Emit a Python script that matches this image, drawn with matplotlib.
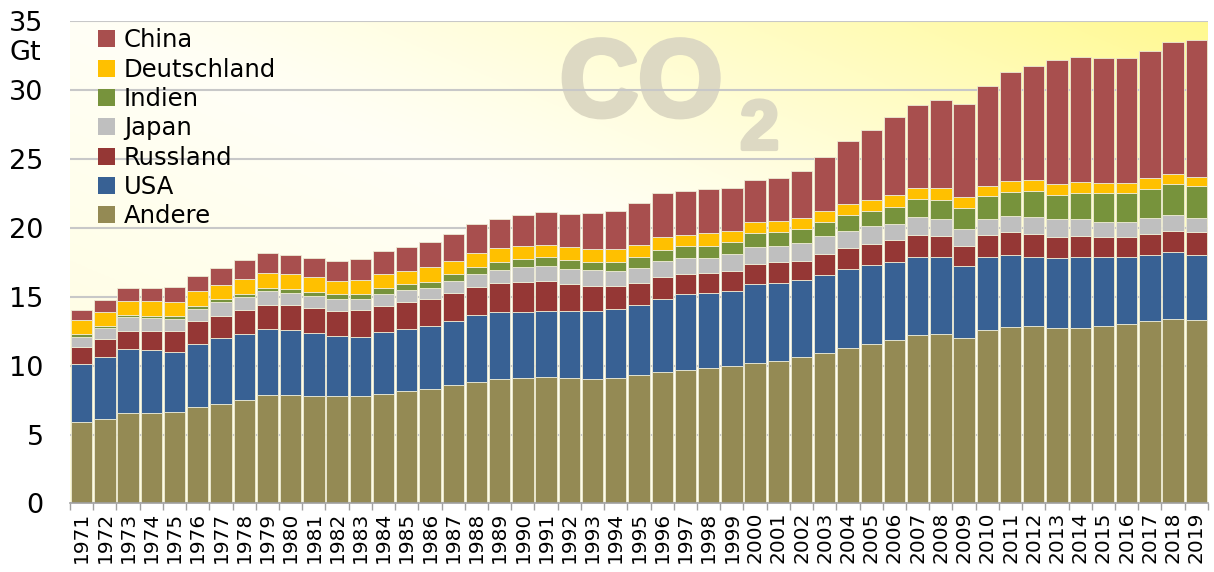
import numpy as np
import matplotlib.pyplot as plt
import matplotlib.patheffects as pe
from matplotlib.patches import Patch
from matplotlib.colors import to_rgb

# Jahre und CO2-Emissionen in Gt (aus dem Bild geschaetzt)
years = list(range(1971, 2020))

andere = [5.88, 6.12, 6.53, 6.56, 6.65, 7.00, 7.20, 7.50, 7.84, 7.90,
          7.80, 7.79, 7.80, 7.93, 8.13, 8.32, 8.59, 8.80, 9.02, 9.12,
          9.17, 9.07, 9.02, 9.07, 9.29, 9.55, 9.70, 9.80, 9.96, 10.20,
          10.35, 10.60, 10.90, 11.30, 11.60, 11.85, 12.20, 12.30, 12.00, 12.60,
          12.80, 12.90, 12.70, 12.70, 12.90, 13.00, 13.25, 13.35, 13.30]
usa = [4.25, 4.48, 4.67, 4.54, 4.35, 4.60, 4.80, 4.80, 4.83, 4.65,
       4.56, 4.35, 4.30, 4.52, 4.52, 4.52, 4.63, 4.86, 4.88, 4.78,
       4.80, 4.88, 4.93, 5.03, 5.09, 5.25, 5.50, 5.50, 5.44, 5.70,
       5.65, 5.60, 5.70, 5.70, 5.70, 5.65, 5.70, 5.60, 5.20, 5.30,
       5.20, 5.00, 5.10, 5.20, 4.95, 4.85, 4.75, 4.90, 4.70]
russland = [1.23, 1.30, 1.30, 1.40, 1.50, 1.65, 1.60, 1.70, 1.73, 1.85,
            1.84, 1.83, 1.90, 1.88, 1.93, 1.96, 2.06, 2.05, 2.08, 2.17,
            2.18, 1.95, 1.83, 1.64, 1.60, 1.60, 1.45, 1.40, 1.50, 1.50,
            1.50, 1.40, 1.50, 1.50, 1.50, 1.60, 1.60, 1.50, 1.50, 1.60,
            1.70, 1.65, 1.50, 1.50, 1.45, 1.45, 1.55, 1.55, 1.70]
japan = [0.74, 0.80, 1.00, 0.95, 0.87, 0.85, 1.00, 0.96, 1.00, 0.88,
         0.86, 0.88, 0.85, 0.90, 0.89, 0.84, 0.89, 0.97, 0.99, 1.09,
         1.08, 1.10, 1.14, 1.16, 1.11, 1.20, 1.15, 1.10, 1.20, 1.20,
         1.20, 1.30, 1.30, 1.30, 1.30, 1.20, 1.30, 1.20, 1.20, 1.10,
         1.15, 1.25, 1.30, 1.20, 1.15, 1.15, 1.15, 1.10, 1.00]
indien = [0.16, 0.20, 0.20, 0.15, 0.23, 0.20, 0.20, 0.24, 0.25, 0.29,
          0.29, 0.31, 0.33, 0.37, 0.43, 0.43, 0.46, 0.48, 0.53, 0.58,
          0.63, 0.64, 0.63, 0.65, 0.79, 0.80, 0.90, 0.90, 0.90, 1.00,
          1.00, 1.00, 1.00, 1.10, 1.10, 1.20, 1.30, 1.40, 1.50, 1.70,
          1.75, 1.90, 1.80, 1.95, 2.05, 2.05, 2.10, 2.30, 2.30]
deutschland = [1.04, 1.00, 1.00, 1.10, 1.00, 1.10, 1.05, 1.05, 1.10, 1.06,
               1.05, 0.99, 1.02, 1.05, 1.00, 1.09, 0.97, 1.04, 1.00, 0.96,
               0.92, 0.93, 0.89, 0.94, 0.87, 0.90, 0.80, 0.90, 0.80, 0.80,
               0.80, 0.80, 0.80, 0.80, 0.80, 0.90, 0.80, 0.90, 0.80, 0.70,
               0.80, 0.80, 0.80, 0.75, 0.75, 0.75, 0.80, 0.70, 0.70]
china = [0.77, 0.87, 0.94, 0.90, 1.07, 1.10, 1.25, 1.40, 1.45, 1.40,
         1.44, 1.45, 1.54, 1.65, 1.70, 1.79, 1.98, 2.08, 2.17, 2.23,
         2.37, 2.46, 2.66, 2.76, 3.05, 3.20, 3.20, 3.20, 3.10, 3.10,
         3.10, 3.40, 3.90, 4.60, 5.10, 5.60, 6.00, 6.40, 6.80, 7.30,
         7.90, 8.20, 9.00, 9.10, 9.05, 9.05, 9.20, 9.60, 9.90]

series = [("Andere", andere, "#948A54"),
          ("USA", usa, "#386194"),
          ("Russland", russland, "#953735"),
          ("Japan", japan, "#BFBFBF"),
          ("Indien", indien, "#77933C"),
          ("Deutschland", deutschland, "#FFC000"),
          ("China", china, "#A84F4E")]

fig = plt.figure(figsize=(12.14, 5.72), dpi=100)
ax = fig.add_axes([0.0577, 0.1198, 0.9373, 0.8435])

# Hintergrund: diagonaler Verlauf, oben rechts kraeftig gelb
n = 200
u = np.linspace(0, 1, n)
U, V = np.meshgrid(u, u[::-1])
s = (U + V) / 2
c0 = np.array(to_rgb("#FFFDDC"))
c1 = np.array(to_rgb("#FFFFF6"))
c2 = np.array(to_rgb("#FFF98F"))
w1 = np.clip(s / 0.5, 0, 1)[..., None]
w2 = np.clip((s - 0.5) / 0.5, 0, 1)[..., None] ** 1.3
img = c0 * (1 - w1) + c1 * w1
img = img * (1 - w2) + c2 * w2
ax.imshow(img, extent=(0, 1, 0, 1), transform=ax.transAxes, aspect="auto", zorder=0)

# CO2-Wasserzeichen
wm = "#DDD9C3"
thick = [pe.withStroke(linewidth=4, foreground=wm)]
ax.text(0.502, 0.862, "CO", transform=ax.transAxes, ha="center", va="center",
        fontsize=78, fontweight="heavy", family="Liberation Sans", color=wm,
        path_effects=thick, zorder=0.5)
ax.text(0.606, 0.772, "2", transform=ax.transAxes, ha="center", va="center",
        fontsize=50, fontweight="heavy", family="Liberation Sans", color=wm,
        path_effects=[pe.withStroke(linewidth=3, foreground=wm)], zorder=0.5)

x = np.arange(len(years))
bottom = np.zeros(len(years))
for name, vals, col in series:
    ax.bar(x, vals, bottom=bottom, width=0.92, color=col, edgecolor="#EDEBD5",
           linewidth=0.6, label=name, zorder=2)
    bottom += np.array(vals)

ax.set_xlim(-0.5, len(years) - 0.5)
ax.set_ylim(0, 35)
ax.set_yticks(range(0, 36, 5))
ax.grid(axis="y", color="#C8C8C8", linewidth=1.5, zorder=1)
ax.set_axisbelow(True)

ax.set_xticks(x)
ax.set_xticklabels([str(y) for y in years], rotation=90, fontsize=14.5)
ax.set_xticks(np.arange(-0.5, len(years), 1), minor=True)
ax.tick_params(axis="x", which="major", length=0, pad=6)
ax.tick_params(axis="x", which="minor", length=5, color="#A0A0A0", width=1)
ax.tick_params(axis="y", length=0, pad=19, labelsize=19.5)

for side in ["top", "right", "left"]:
    ax.spines[side].set_visible(False)
ax.spines["bottom"].set_color("#A0A0A0")
ax.spines["bottom"].set_linewidth(1.2)

fig.text(0.008, 0.907, "Gt", fontsize=19.5, ha="left", va="center")

handles = [Patch(facecolor=col, edgecolor="none") for _, _, col in series][::-1]
labels = [name for name, _, _ in series][::-1]
leg = ax.legend(handles, labels, loc="upper left", bbox_to_anchor=(0.012, 1.015),
                frameon=False, fontsize=17.5, handlelength=0.7, handleheight=0.7,
                handletextpad=0.35, labelspacing=0.22, borderaxespad=0.2)
leg.set_zorder(3)

fig.savefig("out.png", dpi=100)
